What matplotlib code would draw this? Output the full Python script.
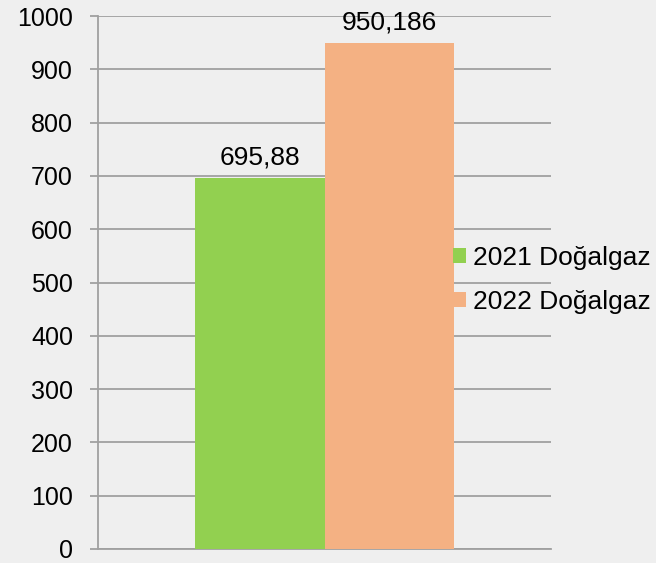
import matplotlib.pyplot as plt
from matplotlib.patches import Patch

# data
series = ['2021 Doğalgaz', '2022 Doğalgaz']
values = [695.88, 950.186]
value_labels = ['695,88', '950,186']
colors = ['#92d050', '#f4b183']
yticks = [0, 100, 200, 300, 400, 500, 600, 700, 800, 900, 1000]

plt.rcParams['font.family'] = ['Liberation Sans', 'DejaVu Sans']
bg = '#efefef'
grid_col = '#a0a0a0'

fig = plt.figure(figsize=(6.56, 5.63), dpi=100, facecolor=bg)
ax = fig.add_axes([98 / 656, 14 / 563, 453 / 656, 533 / 563], facecolor=bg)

width = 0.285
offsets = [-width / 2, width / 2]
for off, v, c, lab, txt in zip(offsets, values, colors, series, value_labels):
    ax.bar(off, v, width=width, color=c, zorder=3, label=lab)
    ax.annotate(txt, (off, v), xytext=(0, 6), textcoords='offset points',
                ha='center', va='bottom', fontsize=19, color='#000000')

ax.set_xlim(-0.5, 0.5)
ax.set_ylim(0, 1000)
ax.set_yticks(yticks)
ax.set_yticklabels([str(t) for t in yticks], fontsize=18)
ax.set_xticks([])
ax.yaxis.grid(True, color=grid_col, linewidth=1.3, zorder=0)
ax.tick_params(axis='y', length=6, width=1.3, color=grid_col, pad=12)
for s in ['top', 'right']:
    ax.spines[s].set_visible(False)
for s in ['left', 'bottom']:
    ax.spines[s].set_color(grid_col)
    ax.spines[s].set_linewidth(1.3)
ax.spines['left'].set_zorder(4)

handles = [Patch(facecolor=c, edgecolor='none') for c in colors]
fig.legend(handles, series, loc='center left', bbox_to_anchor=(453 / 656, 1 - 280 / 563),
           frameon=False, fontsize=19, handlelength=0.5, handleheight=0.5,
           handletextpad=0.25, labelspacing=0.75, borderaxespad=0, borderpad=0)

fig.savefig('out.png', dpi=100, facecolor=bg)
